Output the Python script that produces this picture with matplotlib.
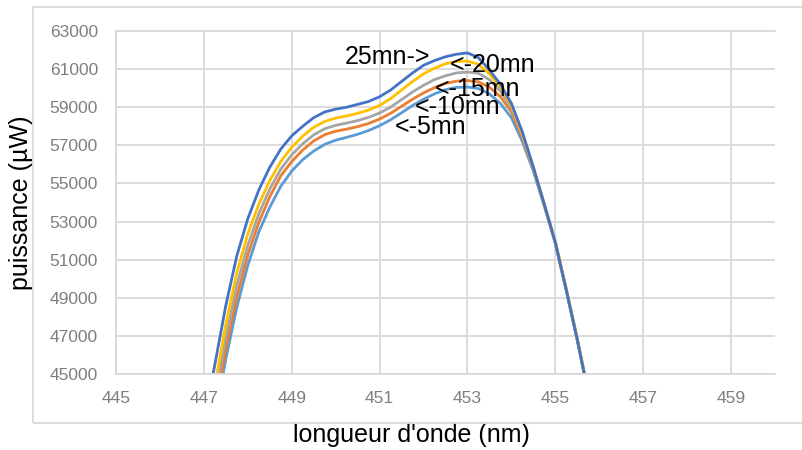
"""Spectre de puissance d'une LED bleue a differents temps de chauffe."""

import matplotlib

matplotlib.use("Agg")
import matplotlib.pyplot as plt
from matplotlib.patches import Rectangle

# longueur d'onde (nm), lue toutes les 0.25 nm sur la figure
wavelength = [447.0 + 0.25 * i for i in range(36)]

p_25mn = [42400, 45500, 48600, 51200, 53150, 54650, 55850, 56800, 57500, 58000,
          58450, 58750, 58900, 59000, 59150, 59300, 59550, 59900, 60350, 60800,
          61200, 61450, 61650, 61780, 61850, 61600, 60950, 60200, 59200, 57700,
          55850, 53900, 51900, 49400, 46800, 44000]
p_20mn = [41300, 44400, 47600, 50300, 52350, 53900, 55150, 56150, 56900, 57480,
          57950, 58250, 58430, 58540, 58680, 58850, 59100, 59450, 59900, 60350,
          60750, 61050, 61280, 61400, 61420, 61250, 60750, 60050, 59100, 57600,
          55850, 53900, 51950, 49450, 46850, 44050]
p_15mn = [40600, 43700, 46900, 49650, 51750, 53400, 54700, 55750, 56500, 57080,
          57550, 57870, 58050, 58170, 58300, 58470, 58700, 59000, 59400, 59800,
          60150, 60450, 60650, 60800, 60850, 60780, 60450, 59850, 58950, 57550,
          55800, 53900, 51950, 49450, 46850, 44050]
p_10mn = [40000, 43100, 46300, 49050, 51250, 52950, 54300, 55400, 56150, 56750,
          57230, 57560, 57740, 57850, 57980, 58150, 58380, 58680, 59050, 59420,
          59750, 60030, 60250, 60370, 60400, 60330, 60050, 59550, 58750, 57400,
          55750, 53850, 51900, 49400, 46800, 44000]
p_5mn = [39600, 42650, 45800, 48500, 50700, 52450, 53750, 54850, 55650, 56250,
         56700, 57050, 57270, 57420, 57580, 57780, 58030, 58340, 58710, 59090,
         59420, 59700, 59920, 60040, 60060, 59980, 59700, 59200, 58450, 57200,
         55650, 53800, 51850, 49350, 46750, 43950]

series = [
    ("5mn", p_5mn, "#5B9BD5"),
    ("10mn", p_10mn, "#ED7D31"),
    ("15mn", p_15mn, "#A5A5A5"),
    ("20mn", p_20mn, "#FFC000"),
    ("25mn", p_25mn, "#4472C4"),
]

x_ticks = [445, 447, 449, 451, 453, 455, 457, 459]
y_ticks = list(range(45000, 63001, 2000))

GRID = "#d9d9d9"
FONT = "Liberation Sans"

fig = plt.figure(figsize=(8.03, 4.5), dpi=100)
fig.patches.append(Rectangle((33 / 803, 27 / 450), 1.0, 416 / 450,
                             transform=fig.transFigure, fill=False,
                             edgecolor=GRID, lw=1.3, zorder=0))
ax = fig.add_axes([116 / 803, 76 / 450, 659 / 803, 343 / 450])

for name, vals, color in series:
    ax.plot(wavelength, vals, color=color, lw=2.0, solid_capstyle="round",
            solid_joinstyle="round")

ax.set_xlim(445, 460)
ax.set_ylim(45000, 63000)
ax.set_xticks(x_ticks)
ax.set_yticks(y_ticks)
ax.grid(True, color=GRID, lw=1.3)
ax.set_axisbelow(True)
for side in ("left", "bottom", "top"):
    ax.spines[side].set_color(GRID)
    ax.spines[side].set_linewidth(1.3)
ax.spines["right"].set_visible(False)
ax.tick_params(length=0, labelsize=12.5, labelcolor="#7f7f7f")
ax.tick_params(axis="x", pad=12)
ax.tick_params(axis="y", pad=13)
for lab in ax.get_xticklabels() + ax.get_yticklabels():
    lab.set_fontfamily(FONT)

white = dict(facecolor="white", edgecolor="none", pad=0)
ax.set_xlabel("longueur d'onde (nm)", fontsize=18, family=FONT, bbox=white)
ax.xaxis.set_label_coords(0.448, -0.143)
ax.set_ylabel("puissance (µW)", fontsize=18, family=FONT, labelpad=12, bbox=white)

# etiquettes des courbes
labels = [
    ("25mn->", 450.21, 61650),
    ("<-20mn", 452.60, 61220),
    ("<-15mn", 452.26, 59960),
    ("<-10mn", 451.81, 58990),
    ("<-5mn", 451.35, 57965),
]
for txt, lx, ly in labels:
    ax.text(lx, ly, txt, fontsize=18, family=FONT, va="center", ha="left")

fig.savefig("out.png", dpi=100)
